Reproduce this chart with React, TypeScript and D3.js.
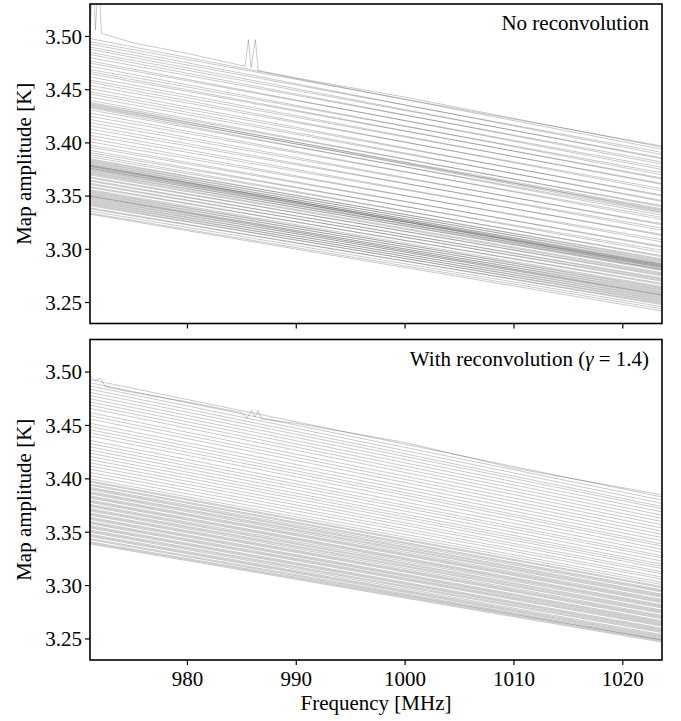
import React from 'react';
import * as d3 from 'd3';

const FREQ_MIN = 971.05;
const FREQ_MAX = 1023.6;
const AMP_MIN = 3.2303;
const AMP_MAX = 3.5305;
const X_TICKS = [980, 990, 1000, 1010, 1020];
const Y_TICKS = [3.25, 3.3, 3.35, 3.4, 3.45, 3.5];

// Panel 1: no reconvolution — amplitude [K] at band start / band end for each spectrum
const noReconStart = [
  3.498, 3.495, 3.493, 3.490, 3.488, 3.485, 3.483, 3.480, 3.477, 3.475, 3.472, 3.469, 3.467, 3.465, 3.462,
  3.459, 3.457, 3.454, 3.451, 3.448, 3.446, 3.443,
  3.440, 3.438, 3.437, 3.436, 3.435, 3.434, 3.433, 3.431,
  3.428, 3.425, 3.422, 3.419, 3.416, 3.413, 3.410, 3.407, 3.404, 3.401, 3.398, 3.396, 3.393, 3.391,
  3.389, 3.387, 3.385, 3.384, 3.383, 3.382, 3.381, 3.380, 3.379, 3.379, 3.378, 3.378, 3.377, 3.376, 3.376,
  3.375, 3.374, 3.373, 3.372, 3.371,
  3.370, 3.368, 3.367, 3.365, 3.364, 3.362, 3.361, 3.359, 3.358, 3.356,
  3.355, 3.354, 3.353, 3.352, 3.351, 3.350, 3.350, 3.349, 3.348, 3.347, 3.346, 3.345, 3.344, 3.343, 3.342,
  3.341, 3.339, 3.338, 3.336, 3.334, 3.333,
];
const noReconEnd = [
  3.394, 3.397, 3.389, 3.391, 3.385, 3.386, 3.380, 3.382, 3.375, 3.377, 3.370, 3.372, 3.366, 3.367, 3.361,
  3.362, 3.355, 3.357, 3.350, 3.351, 3.345, 3.346,
  3.340, 3.341, 3.336, 3.338, 3.335, 3.337, 3.332, 3.334,
  3.328, 3.330, 3.323, 3.324, 3.318, 3.320, 3.313, 3.314, 3.307, 3.309, 3.302, 3.303, 3.297, 3.299,
  3.293, 3.294, 3.290, 3.291, 3.288, 3.289, 3.286, 3.287, 3.285, 3.284, 3.286, 3.283, 3.284, 3.282, 3.285,
  3.281, 3.283, 3.280, 3.281, 3.278,
  3.277, 3.275, 3.276, 3.272, 3.273, 3.270, 3.271, 3.267, 3.268, 3.265,
  3.263, 3.264, 3.261, 3.262, 3.259, 3.260, 3.257, 3.258, 3.256, 3.257, 3.254, 3.255, 3.252, 3.253, 3.250,
  3.251, 3.248, 3.249, 3.246, 3.244, 3.242,
];
// highest spectrum of panel 1, with its RFI spikes
const noReconPeakFreq = [971.05, 971.35, 971.55, 971.85, 972.1, 975, 980, 985.3, 985.6, 985.85, 986.25, 986.5, 990, 1000, 1010, 1023.6];
const noReconPeakAmp = [3.503, 3.56, 3.506, 3.56, 3.503, 3.494, 3.484, 3.472, 3.497, 3.471, 3.497, 3.468, 3.461, 3.443, 3.423, 3.396];

// Panel 2: with reconvolution (gamma = 1.4)
const reconStart = [
  3.493, 3.490, 3.487, 3.484, 3.481, 3.478, 3.475, 3.472, 3.469, 3.466, 3.462, 3.459, 3.456, 3.452, 3.449,
  3.446, 3.443, 3.440, 3.436, 3.433, 3.430, 3.427, 3.424, 3.421, 3.418, 3.415, 3.412, 3.409, 3.406, 3.403,
  3.400,
  3.398, 3.397, 3.395, 3.394, 3.392, 3.391, 3.390, 3.388, 3.387, 3.386, 3.384, 3.383, 3.382, 3.380, 3.379,
  3.378, 3.376, 3.375, 3.374, 3.372, 3.371, 3.370, 3.368, 3.367, 3.366, 3.364, 3.363, 3.362, 3.360, 3.359,
  3.358, 3.356, 3.355, 3.354, 3.352, 3.351, 3.350, 3.348, 3.347, 3.346, 3.344, 3.343, 3.341, 3.340, 3.339,
];
const reconEnd = [
  3.383, 3.380, 3.377, 3.374, 3.372, 3.369, 3.366, 3.363, 3.360, 3.357, 3.354, 3.351, 3.348, 3.345, 3.342,
  3.339, 3.337, 3.334, 3.331, 3.328, 3.326, 3.323, 3.320, 3.318, 3.316, 3.313, 3.311, 3.308, 3.306, 3.303,
  3.301,
  3.299, 3.298, 3.296, 3.295, 3.294, 3.292, 3.291, 3.290, 3.289, 3.287, 3.286, 3.285, 3.284, 3.282, 3.281,
  3.280, 3.279, 3.277, 3.276, 3.275, 3.274, 3.272, 3.271, 3.270, 3.269, 3.267, 3.266, 3.265, 3.264, 3.263,
  3.262, 3.260, 3.259, 3.258, 3.257, 3.256, 3.254, 3.253, 3.252, 3.251, 3.250, 3.249, 3.249, 3.248, 3.247,
];
const reconPeakFreq = [971.05, 971.5, 972, 972.5, 975, 980, 985, 985.5, 985.9, 986.2, 986.5, 986.8, 990, 1000, 1010, 1023.6];
const reconPeakAmp = [3.497, 3.492, 3.494, 3.486, 3.481, 3.472, 3.462, 3.457, 3.464, 3.458, 3.464, 3.456, 3.452, 3.434, 3.41, 3.385];

const FONT = 'Liberation Serif';

type PanelProps = {
  id: string;
  top: number;
  height: number;
  starts: number[];
  ends: number[];
  peakFreq: number[];
  peakAmp: number[];
  label: React.ReactNode;
  labelY: number;
  showXLabels: boolean;
};

const LEFT = 90;
const RIGHT = 662;

function Panel(p: PanelProps) {
  const x = d3.scaleLinear().domain([FREQ_MIN, FREQ_MAX]).range([LEFT, RIGHT]);
  const y = d3.scaleLinear().domain([AMP_MIN, AMP_MAX]).range([p.top + p.height, p.top]);
  const line = d3
    .line<[number, number]>()
    .x((d) => x(d[0]))
    .y((d) => y(d[1]));
  const fmt = d3.format('.2f');
  const spectra: [number, number][][] = p.starts.map((s, i) => [
    [FREQ_MIN, s],
    [FREQ_MAX, p.ends[i]],
  ]);
  spectra.push(p.peakFreq.map((f, i) => [f, p.peakAmp[i]] as [number, number]));
  const bottom = p.top + p.height;
  return (
    <g>
      <defs>
        <clipPath id={p.id}>
          <rect x={LEFT} y={p.top} width={RIGHT - LEFT} height={p.height} />
        </clipPath>
      </defs>
      <g clipPath={`url(#${p.id})`}>
        {spectra.map((s, i) => (
          <path key={i} d={line(s) || ''} fill="none" stroke="#000" strokeOpacity={0.21} strokeWidth={1} />
        ))}
      </g>
      <rect x={LEFT} y={p.top} width={RIGHT - LEFT} height={p.height} fill="none" stroke="#000" strokeWidth={1.6} />
      {Y_TICKS.map((t) => (
        <g key={t}>
          <line x1={LEFT - 5} x2={LEFT} y1={y(t)} y2={y(t)} stroke="#000" strokeWidth={1.2} />
          <text x={LEFT - 8} y={y(t)} dy="0.35em" textAnchor="end" fontSize={21} fontFamily={FONT}>
            {fmt(t)}
          </text>
        </g>
      ))}
      {X_TICKS.map((t) => (
        <g key={t}>
          <line x1={x(t)} x2={x(t)} y1={bottom} y2={bottom + 5} stroke="#000" strokeWidth={1.2} />
          {p.showXLabels && (
            <text x={x(t)} y={bottom + 26} textAnchor="middle" fontSize={21} fontFamily={FONT}>
              {t}
            </text>
          )}
        </g>
      ))}
      <text
        transform={`translate(31,${p.top + p.height / 2}) rotate(-90)`}
        textAnchor="middle"
        fontSize={21}
        fontFamily={FONT}
      >
        Map amplitude [K]
      </text>
      <text x={649} y={p.labelY} textAnchor="end" fontSize={21} fontFamily={FONT}>
        {p.label}
      </text>
    </g>
  );
}

export default function App() {
  return (
    <svg
      width={681}
      height={721}
      style={{ position: 'absolute', left: 0, top: 0, background: '#fff' }}
    >
      <Panel
        id="clip-top"
        top={4}
        height={319.5}
        starts={noReconStart}
        ends={noReconEnd}
        peakFreq={noReconPeakFreq}
        peakAmp={noReconPeakAmp}
        label="No reconvolution"
        labelY={30}
        showXLabels={false}
      />
      <Panel
        id="clip-bottom"
        top={339.5}
        height={320.5}
        starts={reconStart}
        ends={reconEnd}
        peakFreq={reconPeakFreq}
        peakAmp={reconPeakAmp}
        label={
          <>
            With reconvolution (<tspan fontStyle="italic">γ</tspan> = 1.4)
          </>
        }
        labelY={366}
        showXLabels={true}
      />
      <text x={376} y={710} textAnchor="middle" fontSize={21} fontFamily={FONT}>
        Frequency [MHz]
      </text>
    </svg>
  );
}
